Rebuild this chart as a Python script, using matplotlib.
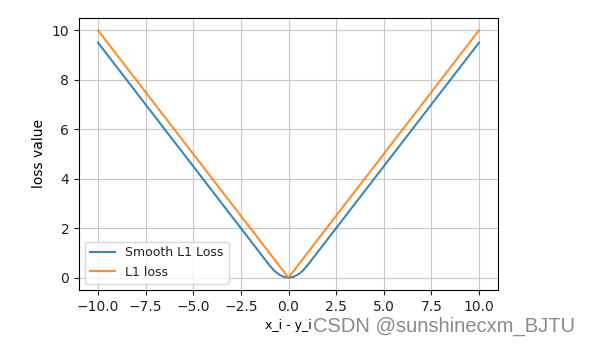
import matplotlib
matplotlib.use("Agg")
import matplotlib.pyplot as plt

# Data
smooth_x = [-10.0, -1.0, -0.75, -0.5, -0.25, 0.0, 0.25, 0.5, 0.75, 1.0, 10.0]
smooth_y = [9.5, 0.5, 0.28, 0.125, 0.03, 0.0, 0.03, 0.125, 0.28, 0.5, 9.5]
l1_x = [-10.0, 0.0, 10.0]
l1_y = [10.0, 0.0, 10.0]
series_labels = ["Smooth L1 Loss", "L1 loss"]
x_label = "x_i - y_i"
y_label = "loss value"
watermark = "CSDN @sunshinecxm_BJTU"

plt.rcParams["text.color"] = "#222222"
plt.rcParams["xtick.color"] = "#222222"
plt.rcParams["ytick.color"] = "#222222"

fig = plt.figure(figsize=(5.93, 3.48), dpi=100)
ax = fig.add_axes([79/593, 58/348, (498-79)/593, (290-18)/348])
ax.plot(smooth_x, smooth_y, color="#1f77b4", alpha=0.88, label=series_labels[0])
ax.plot(l1_x, l1_y, color="#ff7f0e", alpha=0.88, label=series_labels[1])
ax.set_xticks([-10, -7.5, -5, -2.5, 0, 2.5, 5, 7.5, 10])
ax.set_yticks([0, 2, 4, 6, 8, 10])
ax.grid(True, color="#c8c8c8")
ax.legend(loc="lower left", fontsize=9)
ax.set_xlabel(x_label, fontsize=9)
ax.set_ylabel(y_label)
fig.text(313/593, 1 - 326/348, watermark, fontsize=14.5, color="#8a8a8a",
         family=["Liberation Sans", "DejaVu Sans"], va="center", ha="left")
fig.savefig("out.png", dpi=100)
